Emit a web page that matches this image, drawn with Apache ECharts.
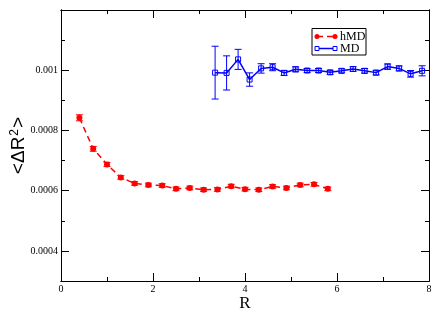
<!DOCTYPE html>
<html>
<head>
<meta charset="utf-8">
<script src="https://cdn.jsdelivr.net/npm/echarts@6/dist/echarts.min.js"></script>
<style>html,body{margin:0;padding:0;background:#fff;}#c{width:436px;height:313px;}</style>
</head>
<body>
<div id="c"></div>
<script>
// ---- data ----
const hmdX = [0.4, 0.7, 1.0, 1.3, 1.6, 1.9, 2.2, 2.5, 2.8, 3.1, 3.4, 3.7, 4.0, 4.3, 4.6, 4.9, 5.2, 5.5, 5.8];
const hmdY = [0.000842, 0.000739, 0.000687, 0.000644, 0.000624, 0.000619, 0.000617, 0.000606, 0.000609, 0.000603,
              0.000604, 0.000615, 0.000605, 0.000603, 0.000614, 0.000609, 0.000619, 0.000621, 0.000606];
const hmdErr = [0.000010, 0.000008, 0.000007, 0.000006, 0.000006, 0.000006, 0.000006, 0.000006, 0.000006, 0.000006,
                0.000006, 0.000006, 0.000006, 0.000006, 0.000006, 0.000006, 0.000006, 0.000006, 0.000006];
const mdX = [3.35, 3.6, 3.85, 4.1, 4.35, 4.6, 4.85, 5.1, 5.35, 5.6, 5.85, 6.1, 6.35, 6.6, 6.85, 7.1, 7.35, 7.6, 7.85];
const mdY = [0.000992, 0.000991, 0.001036, 0.000969, 0.001006, 0.001010, 0.000991, 0.001003, 0.000999, 0.000999,
             0.000993, 0.000998, 0.001004, 0.000998, 0.000992, 0.001012, 0.001006, 0.000988, 0.000998];
const mdErr = [0.0000877, 0.0000567, 0.0000333, 0.0000222, 0.0000156, 0.0000117, 0.0000083, 0.0000083, 0.0000067, 0.0000067,
               0.0000067, 0.0000067, 0.0000077, 0.0000077, 0.0000077, 0.0000090, 0.0000083, 0.0000110, 0.0000167];
const xMajorTicks = [0, 2, 4, 6, 8];
const xMinorTicks = [1, 3, 5, 7];
const yMajorTicks = [0.0004, 0.0006, 0.0008, 0.001];
const yMinorTicks = [0.0003, 0.0005, 0.0007, 0.0009, 0.0011];
const seriesNames = ['hMD', 'MD'];

// ---- build ----
const chart = echarts.init(document.getElementById('c'), null, {renderer: 'canvas'});
const serif = 'Liberation Serif';
const X_MIN = 0, X_MAX = 8, Y_MIN = 0.0003, Y_MAX = 0.0012;

function mkAxis(kind, pos, ticks, len, labels) {
  const a = {
    type: 'value', position: pos, min: kind === 'x' ? X_MIN : Y_MIN, max: kind === 'x' ? X_MAX : Y_MAX,
    splitLine: {show: false},
    axisLine: {show: true, onZero: false, lineStyle: {color: '#000', width: 1}},
    axisTick: {show: true, inside: true, length: len, customValues: ticks, lineStyle: {color: '#000', width: 1}},
    axisLabel: labels ? {
      show: true, customValues: ticks, color: '#000', fontFamily: serif, fontSize: 10, margin: 3,
      formatter: v => String(+(+v).toFixed(5))
    } : {show: false}
  };
  return a;
}

const xAxes = [
  Object.assign(mkAxis('x', 'bottom', xMajorTicks, 8, true), {
    name: 'R', nameLocation: 'middle', nameGap: 14, nameMoveOverlap: false,
    nameTextStyle: {fontFamily: serif, fontSize: 17, color: '#000'}
  }),
  mkAxis('x', 'bottom', xMinorTicks, 4, false),
  mkAxis('x', 'top', xMajorTicks, 8, false),
  mkAxis('x', 'top', xMinorTicks, 4, false)
];
const yAxes = [
  Object.assign(mkAxis('y', 'left', yMajorTicks, 8, true), {
    name: '{a|<ΔR}{s|2}{a|>}', nameLocation: 'middle', nameGap: 32, nameRotate: 90, nameMoveOverlap: false,
    nameTextStyle: {
      color: '#000',
      rich: {
        a: {fontFamily: 'Liberation Sans', fontSize: 19, color: '#000'},
        s: {fontFamily: 'Liberation Sans', fontSize: 12, color: '#000', verticalAlign: 'top', padding: [0, 1, 8, 1]}
      }
    }
  }),
  mkAxis('y', 'left', yMinorTicks, 4, false),
  mkAxis('y', 'right', yMajorTicks, 8, false),
  mkAxis('y', 'right', yMinorTicks, 4, false)
];

function errData(xs, ys, es) {
  return xs.map((x, i) => [x, ys[i] - es[i], ys[i] + es[i]]);
}
function errRender(color) {
  return function (params, api) {
    const x = api.value(0);
    const lo = api.coord([x, api.value(1)]);
    const hi = api.coord([x, api.value(2)]);
    const w = 3.5;
    const st = {stroke: color, lineWidth: 1};
    return {
      type: 'group',
      children: [
        {type: 'line', shape: {x1: lo[0], y1: lo[1], x2: hi[0], y2: hi[1]}, style: st},
        {type: 'line', shape: {x1: lo[0] - w, y1: lo[1], x2: lo[0] + w, y2: lo[1]}, style: st},
        {type: 'line', shape: {x1: hi[0] - w, y1: hi[1], x2: hi[0] + w, y2: hi[1]}, style: st}
      ]
    };
  };
}

const RED = '#ff0000', BLUE = '#0000ff';
const option = {
  animation: false,
  backgroundColor: '#fff',
  grid: {left: 61, right: 7, top: 10, bottom: 32, containLabel: false, outerBoundsMode: 'none'},
  xAxis: xAxes,
  yAxis: yAxes,
  series: [
    {
      type: 'custom', name: seriesNames[0] + '_err', renderItem: errRender(RED),
      data: errData(hmdX, hmdY, hmdErr), encode: {x: 0, y: [1, 2]}, z: 2, silent: true
    },
    {
      type: 'custom', name: seriesNames[1] + '_err', renderItem: errRender(BLUE),
      data: errData(mdX, mdY, mdErr), encode: {x: 0, y: [1, 2]}, z: 2, silent: true
    },
    {
      type: 'line', name: seriesNames[0], data: hmdX.map((x, i) => [x, hmdY[i]]),
      symbol: 'circle', symbolSize: 6, showSymbol: true,
      lineStyle: {color: RED, width: 1.5, type: [6, 4]},
      itemStyle: {color: RED}, z: 3
    },
    {
      type: 'line', name: seriesNames[1], data: mdX.map((x, i) => [x, mdY[i]]),
      symbol: 'rect', symbolSize: 5, showSymbol: true,
      lineStyle: {color: BLUE, width: 1.5},
      itemStyle: {color: 'rgba(255,255,255,0)', borderColor: BLUE, borderWidth: 1}, z: 3
    }
  ],
  graphic: [
    {type: 'rect', shape: {x: 312, y: 28.5, width: 54, height: 26.5},
     style: {fill: '#fff', stroke: '#000', lineWidth: 1}, z: 10},
    {type: 'line', shape: {x1: 317, y1: 36.5, x2: 335, y2: 36.5},
     style: {stroke: RED, lineWidth: 1.5, lineDash: [6, 4]}, z: 11},
    {type: 'circle', shape: {cx: 317, cy: 36.5, r: 2.5}, style: {fill: RED}, z: 11},
    {type: 'circle', shape: {cx: 335, cy: 36.5, r: 2.5}, style: {fill: RED}, z: 11},
    {type: 'text', x: 340, y: 36.5, style: {text: seriesNames[0], fill: '#000', font: '12px "Liberation Serif"', verticalAlign: 'middle'}, z: 11},
    {type: 'line', shape: {x1: 317, y1: 48.5, x2: 335, y2: 48.5},
     style: {stroke: BLUE, lineWidth: 1.5}, z: 11},
    {type: 'rect', shape: {x: 315, y: 46.5, width: 4, height: 4}, style: {fill: '#fff', stroke: BLUE, lineWidth: 1}, z: 12},
    {type: 'rect', shape: {x: 333, y: 46.5, width: 4, height: 4}, style: {fill: '#fff', stroke: BLUE, lineWidth: 1}, z: 12},
    {type: 'text', x: 340, y: 48.5, style: {text: seriesNames[1], fill: '#000', font: '12px "Liberation Serif"', verticalAlign: 'middle'}, z: 11}
  ]
};
chart.setOption(option);
</script>
</body>
</html>
